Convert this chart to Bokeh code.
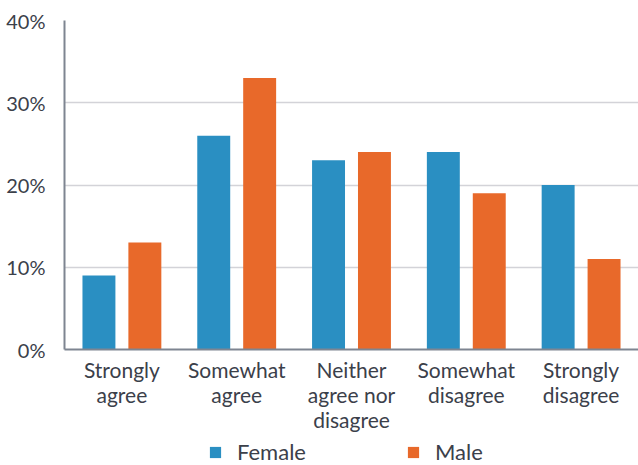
from bokeh.plotting import figure
from bokeh.layouts import column
from bokeh.models import ColumnDataSource, Range1d, FixedTicker, Legend, LegendItem
from bokeh.embed import file_html
from bokeh.resources import INLINE

categories = ["Strongly\nagree", "Somewhat\nagree", "Neither\nagree nor\ndisagree", "Somewhat\ndisagree", "Strongly\ndisagree"]
female = [9, 26, 23, 24, 20]
male = [13, 33, 24, 19, 11]
y_ticks = [0, 10, 20, 30, 40]
y_tick_labels = ["0%", "10%", "20%", "30%", "40%"]
series_names = ["Female", "Male"]

FONT = "Lato"
TEXT = "#3b404a"
BLUE = "#2a8fc2"
ORANGE = "#e8692a"

idx = list(range(len(categories)))
src = ColumnDataSource(dict(
    xf=[i + 0.5 - 0.2 for i in idx],
    xm=[i + 0.5 + 0.2 for i in idx],
    female=female, male=male,
))

p = figure(width=638, height=434, output_backend="svg", toolbar_location=None,
           x_range=Range1d(0, len(categories)), y_range=Range1d(0, 40),
           min_border_left=64, min_border_right=0, min_border_top=20, min_border_bottom=84)
p.outline_line_color = None
p.background_fill_color = "white"
p.border_fill_color = "white"

p.vbar(x="xf", top="female", width=0.287, source=src, fill_color=BLUE, line_color=None)
p.vbar(x="xm", top="male", width=0.287, source=src, fill_color=ORANGE, line_color=None)

p.xaxis.ticker = FixedTicker(ticks=[i + 0.5 for i in idx])
p.xaxis.major_label_overrides = {i + 0.5: c for i, c in zip(idx, categories)}
p.yaxis.ticker = FixedTicker(ticks=y_ticks)
p.yaxis.major_label_overrides = {t: l for t, l in zip(y_ticks, y_tick_labels)}

for ax in (p.xaxis[0], p.yaxis[0]):
    ax.major_tick_line_color = None
    ax.minor_tick_line_color = None
    ax.axis_line_color = "#7e8591"
    ax.axis_line_width = 2
    ax.major_label_text_font = FONT
    ax.major_label_text_color = TEXT
p.xaxis.major_label_text_font_size = "21px"
p.xaxis.major_label_text_line_height = 1.0
p.yaxis.major_label_text_font_size = "20px"
p.xaxis.major_label_standoff = 1
p.yaxis.major_label_standoff = 13

p.xgrid.grid_line_color = None
p.ygrid.grid_line_color = "#d3d3d8"
p.ygrid.grid_line_width = 1.5

# legend strip below the chart
p2 = figure(width=638, height=31, output_backend="svg", toolbar_location=None,
            x_range=Range1d(0, 1), y_range=Range1d(0, 1),
            min_border_left=0, min_border_right=0, min_border_top=0, min_border_bottom=0)
p2.axis.visible = False
p2.grid.visible = False
p2.outline_line_color = None
p2.border_fill_color = "white"
lf = p2.vbar(x=[-5], top=[-4], bottom=[-5], width=0.1, fill_color=BLUE, line_color=None)
lm = p2.vbar(x=[-5], top=[-4], bottom=[-5], width=0.1, fill_color=ORANGE, line_color=None)
legend = Legend(items=[LegendItem(label=series_names[0], renderers=[lf]),
                       LegendItem(label=series_names[1], renderers=[lm])],
                orientation="horizontal", location=(144, 0),
                label_text_font=FONT, label_text_font_size="22px", label_text_color=TEXT,
                glyph_width=14, glyph_height=14, spacing=100, label_standoff=15,
                border_line_color=None, background_fill_alpha=0,
                padding=0, margin=0)
p2.add_layout(legend)

layout = column(p, p2, spacing=0)
open("out.html", "w").write(file_html(layout, INLINE))
